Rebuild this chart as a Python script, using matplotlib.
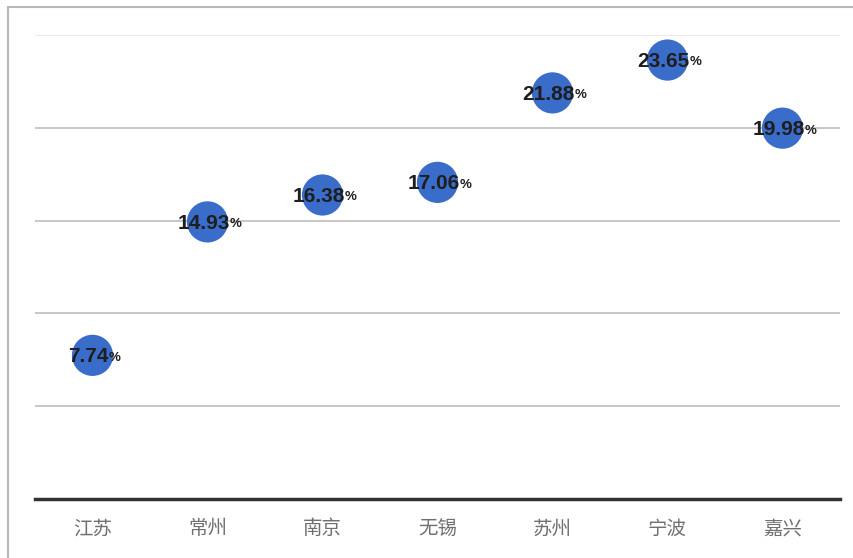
import matplotlib
matplotlib.use("Agg")
import matplotlib.pyplot as plt
from matplotlib.patches import Rectangle

categories = ["江苏", "常州", "南京", "无锡", "苏州", "宁波", "嘉兴"]
values = [7.74, 14.93, 16.38, 17.06, 21.88, 23.65, 19.98]
yticks = [0, 5, 10, 15, 20, 25]

plt.rcParams['font.family'] = ['Noto Sans CJK SC', 'DejaVu Sans']

fig = plt.figure(figsize=(8.54, 5.58), dpi=100)
ax = fig.add_axes([35/854, 1-499/558, (840-35)/854, (499-35)/558])

# figure frame (left & top)
fig.patches.append(Rectangle((8/854, -0.01), 1.0, 1 - 7/558 + 0.01, transform=fig.transFigure,
                             fill=False, edgecolor='#b8b8b8', linewidth=1.5))

x = list(range(len(categories)))
ax.set_xlim(-0.5, len(categories) - 0.5)
ax.set_ylim(0, 25)
ax.set_yticks(yticks)
ax.set_yticklabels([])
ax.tick_params(axis='y', length=0)
ax.tick_params(axis='x', length=0, pad=14)
ax.set_xticks(x)
ax.set_xticklabels(categories, fontsize=14, color='#707070')

for t in yticks[1:]:
    c = '#e6e6e6' if t == 25 else '#bdbdbd'
    ax.axhline(t, color=c, linewidth=1.2, zorder=0)

for s in ['top', 'right', 'left']:
    ax.spines[s].set_visible(False)
ax.spines['bottom'].set_color('#333333')
ax.spines['bottom'].set_linewidth(2.5)

ax.scatter(x, values, s=880, color='#3a6cc9', zorder=3, edgecolors='none', clip_on=False)

for xi, v in zip(x, values):
    t = ax.annotate(f"{v:.2f}", (xi, v), xytext=(-3, -1), textcoords='offset points',
                    ha='center', va='center', fontsize=15, color='#1e1e1e',
                    family='Liberation Sans', fontweight='bold', zorder=4)
    ax.annotate('%', xy=(1, 0.45), xycoords=t, ha='left', va='center',
                fontsize=9.5, color='#1e1e1e', family='Liberation Sans', zorder=4,
                fontweight='bold')

fig.savefig('out.png', dpi=100)
